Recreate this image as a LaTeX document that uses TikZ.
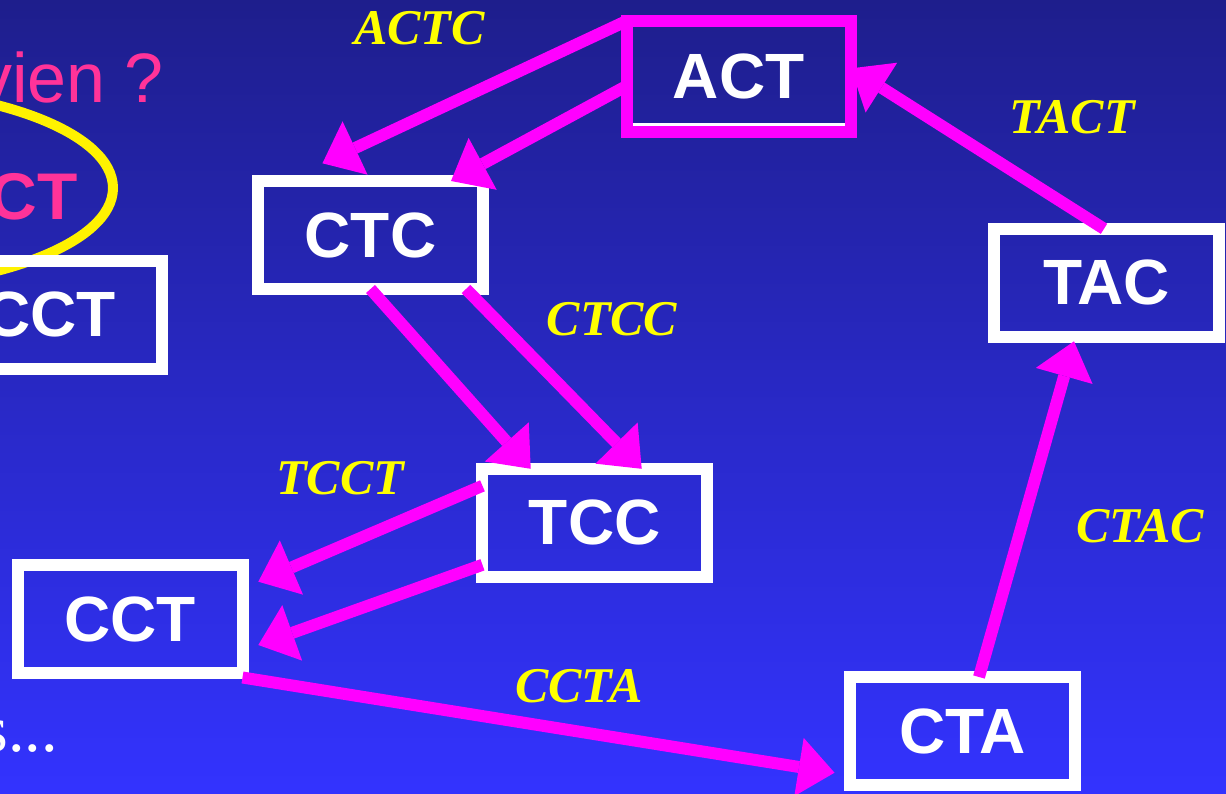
\documentclass[tikz,border=0pt]{standalone}
\usepackage{fontspec}
\setmainfont{Liberation Serif}
\setsansfont{Liberation Sans}
\usetikzlibrary{arrows.meta}

\definecolor{bgtop}{RGB}{30,30,140}
\definecolor{bgbot}{RGB}{51,51,255}
\definecolor{mag}{RGB}{255,0,255}
\definecolor{pinktext}{RGB}{255,51,153}
\definecolor{lbl}{RGB}{255,255,0}

\begin{document}
\begin{tikzpicture}[x=1pt,y=-1pt,
  seqbox/.style={draw=white, line width=12pt, minimum width=224.5pt,
    minimum height=108pt, inner sep=0pt, outer sep=0pt, text=white,
    font=\sffamily\bfseries\fontsize{64}{64}\selectfont},
  startbox/.style={seqbox, draw=mag},
  link/.style={draw=mag, line width=12pt,
    -{Triangle[length=36pt,width=59pt,line width=0pt]}},
  word/.style={text=lbl, inner sep=0pt, anchor=base,
    font=\rmfamily\bfseries\itshape\fontsize{50}{50}\selectfont},
  side/.style={inner sep=0pt, anchor=base east},
]
% canvas and background gradient
\useasboundingbox (0,0) rectangle (1226,794);
\clip (0,0) rectangle (1226,794);
\shade[top color=bgtop, bottom color=bgbot] (0,0) rectangle (1226,794);

% text on the left margin
\node[side, text=pinktext, font=\sffamily\fontsize{70}{70}\selectfont] (question) at (164,103) {vien ?};
\node[side, text=pinktext, font=\sffamily\bfseries\fontsize{66}{66}\selectfont] (circled) at (78,220) {ACT};
\draw[yellow, line width=10pt] (-150,188) ellipse [x radius=263pt, y radius=100pt];
\node[side, text=white, font=\rmfamily\fontsize{66}{66}\selectfont] (etc) at (58,751) {s...};

% sequence boxes
\node[startbox, minimum height=111.5pt] (act) at (738.75,76.75) {ACT};
\draw[white, line width=3.5pt] ([xshift=6.5pt,yshift=8pt]act.south west) -- ([xshift=-6.5pt,yshift=8pt]act.south east);
\node[seqbox] (ctc) at (370.5,235) {CTC};
\node[seqbox] (tcc) at (594.7,522.8) {TCC};
\node[seqbox] (cct) at (130.25,619) {CCT};
\node[seqbox] (cta) at (962.5,731) {CTA};
\node[seqbox] (tac) at (1106.7,282.8) {TAC};
\node[seqbox] (cctl) at (50,314.75) {CCT};

% transitions
\draw[link] (act.north west) -- ([xshift=64.2pt,yshift=17.7pt]ctc.north west);
\draw[link] ([yshift=-9.25pt]act.west) -- ([xshift=80.5pt]ctc.north);
\draw[link] ([xshift=-2.7pt]tac.north) -- ([yshift=8.4pt]act.east);
\draw[link] (ctc.south) -- ([xshift=-64pt]tcc.north);
\draw[link] ([xshift=95.5pt]ctc.south) -- ([xshift=47pt]tcc.north);
\draw[link] ([yshift=37pt]tcc.west) -- ([xshift=15.8pt,yshift=37.3pt]cct.east);
\draw[link] ([yshift=-42pt]tcc.west) -- ([xshift=15.8pt,yshift=-26pt]cct.east);
\draw[link] ([yshift=-4.5pt]cct.south east) -- ([xshift=-15.7pt,yshift=-41.7pt]cta.west);
\draw[link] ([xshift=16.5pt]cta.north) -- ([xshift=-32.7pt,yshift=-4.5pt]tac.south);

% transition labels
\node[word] (wactc) at (419.5,45) {ACTC};
\node[word] (wtact) at (1072,134) {TACT};
\node[word] (wctcc) at (612,335) {CTCC};
\node[word] (wtcct) at (340,494) {TCCT};
\node[word] (wctac) at (1140,542) {CTAC};
\node[word] (wccta) at (579,702) {CCTA};
\end{tikzpicture}
\end{document}
